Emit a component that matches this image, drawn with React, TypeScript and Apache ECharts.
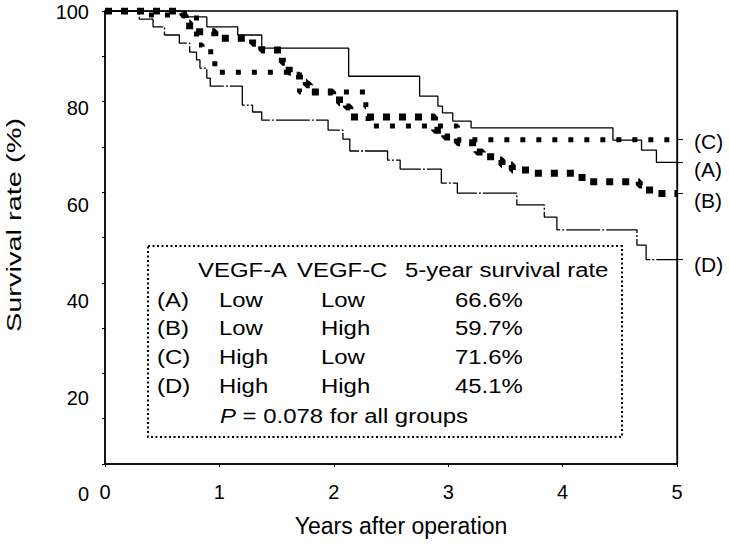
import React, { useEffect, useRef } from "react";
import * as echarts from "echarts";

// ---- data ----
const groupNames = ["(A)", "(B)", "(C)", "(D)"];
const vegfA = ["Low", "Low", "High", "High"];
const vegfC = ["Low", "High", "Low", "High"];
const fiveYearRate = [66.6, 59.7, 71.6, 45.1];

const aTimes = [0, 0.71, 0.89, 1.16, 1.37, 2.13, 2.75, 2.91, 2.95, 3.04, 3.2, 4.44, 4.69, 4.82, 5];
const aSurv = [100, 98.7, 96.5, 94.7, 91.8, 85.6, 81.2, 79.0, 77.5, 75.7, 74.2, 71.5, 69.3, 66.6, 66.6];

const bTimes = [0, 0.68, 0.7, 0.74, 0.96, 1.29, 1.37, 1.55, 1.61, 1.66, 1.7, 1.76, 1.79, 1.99, 2.05, 2.11, 2.14, 2.88, 2.97, 3.08, 3.25, 3.3, 3.45, 3.47, 3.56, 3.71, 4.17, 4.67, 4.76, 5];
const bSurv = [100, 99.1, 97.4, 95.4, 94.0, 92.9, 91.4, 88.7, 86.5, 85.8, 84.3, 83.7, 82.1, 81.2, 79.7, 78.8, 76.6, 73.7, 72.2, 70.9, 68.9, 67.8, 67.1, 66.0, 64.9, 64.2, 62.3, 61.6, 59.7, 59.7];

const cTimes = [0, 0.35, 0.8, 0.85, 0.96, 0.98, 1.7, 2.28, 2.3, 3.08, 5];
const cSurv = [100, 99.1, 92.5, 91.0, 87.6, 86.5, 82.1, 78.8, 74.6, 71.6, 71.6];

const dTimes = [0, 0.3, 0.42, 0.52, 0.65, 0.74, 0.8, 0.83, 0.89, 0.92, 1.2, 1.29, 1.37, 1.95, 2.08, 2.14, 2.47, 2.58, 2.94, 3.08, 3.6, 3.84, 3.95, 4.65, 4.73, 5];
const dSurv = [100, 98.2, 96.5, 94.7, 92.9, 90.9, 89.2, 87.4, 85.2, 83.4, 79.2, 77.7, 75.9, 73.7, 71.7, 69.1, 67.1, 65.1, 62.0, 59.8, 57.2, 54.5, 51.7, 48.3, 45.1, 45.1];

const xTicks = [0, 1, 2, 3, 4, 5];
const yLabelTicks = [0, 20, 40, 60, 80, 100];

const FONT = "'Liberation Sans', Arial, Helvetica, sans-serif";

const pairs = (t: number[], s: number[]) => t.map((v, i) => [v, s[i]]);

export default function App() {
  const ref = useRef<HTMLDivElement>(null);
  useEffect(() => {
    if (!ref.current) return;
    const chart = echarts.init(ref.current, undefined, { renderer: "svg" });

    const txt = (text: string, x: number, y: number, extra: any = {}) => ({
      type: "text",
      x,
      y,
      scaleX: 1.14,
      style: {
        text,
        fontSize: 21,
        fontFamily: FONT,
        fill: "#000",
        align: "left",
        verticalAlign: "middle",
        ...extra,
      },
    });

    const rowY = [300, 328, 357, 386];
    const tableTexts: any[] = [
      txt("VEGF-A", 198, 270),
      txt("VEGF-C", 297, 270),
      txt("5-year survival rate", 405, 270),
    ];
    groupNames.forEach((g, i) => {
      tableTexts.push(txt(g, 157, rowY[i]));
      tableTexts.push(txt(vegfA[i], 219, rowY[i]));
      tableTexts.push(txt(vegfC[i], 321, rowY[i]));
      tableTexts.push(txt(fiveYearRate[i].toFixed(1) + "%", 455, rowY[i]));
    });
    tableTexts.push({
      type: "text",
      x: 220,
      y: 416,
      scaleX: 1.14,
      style: {
        text: "{i|P} = 0.078 for all groups",
        fontSize: 21,
        fontFamily: FONT,
        fill: "#000",
        align: "left",
        verticalAlign: "middle",
        rich: { i: { fontStyle: "italic", fontSize: 21, fontFamily: FONT, fill: "#000" } },
      },
    });

    const endOffsets: Record<string, number> = { "(A)": 7, "(B)": 7, "(C)": 2, "(D)": 5 };
    const mkSeries = (name: string, data: number[][], lineStyle: any) => ({
      name,
      type: "line",
      step: "end",
      data,
      symbol: "none",
      xAxisIndex: 0,
      yAxisIndex: 0,
      lineStyle: { color: "#000", ...lineStyle },
      endLabel: {
        show: true,
        formatter: name,
        distance: 17,
        offset: [0, endOffsets[name]],
        fontSize: 21,
        fontFamily: FONT,
        color: "#000",
      },
      z: 3,
    });

    const option: any = {
      animation: false,
      backgroundColor: "#fff",
      grid: [
        { left: 105, right: 52, top: 11, bottom: 85, show: true, borderColor: "#000", borderWidth: 1.3, backgroundColor: "transparent" },
        { left: 105, right: 52, top: 12, bottom: 55, show: false },
      ],
      xAxis: [
        {
          type: "value",
          gridIndex: 0,
          min: 0,
          max: 5,
          interval: 1,
          axisLine: { show: true, lineStyle: { color: "#000", width: 1.5 } },
          axisTick: { show: true, length: 3, lineStyle: { color: "#000" } },
          splitLine: { show: false },
          axisLabel: {
            fontSize: 20,
            fontFamily: FONT,
            color: "#000",
            margin: 18,
            formatter: (v: number) => (xTicks.includes(v) ? String(v) : ""),
          },
          name: "Years after operation",
          nameLocation: "middle",
          nameGap: 50,
          nameTextStyle: { fontSize: 23, fontFamily: FONT, color: "#000", padding: [0, 0, 0, 20] },
        },
        { type: "value", gridIndex: 1, min: 0, max: 5, show: false },
      ],
      yAxis: [
        {
          type: "value",
          gridIndex: 0,
          min: 0,
          max: 100,
          interval: 10,
          axisLine: { show: true, lineStyle: { color: "#000", width: 1.5 } },
          axisTick: { show: true, length: 3, lineStyle: { color: "#000" } },
          axisLabel: { show: false },
          splitLine: { show: false },
        },
        {
          type: "value",
          gridIndex: 0,
          position: "right",
          min: 0,
          max: 100,
          axisLine: { show: true, lineStyle: { color: "#000", width: 1.3 } },
          axisTick: { show: true, length: 6, customValues: fiveYearRate, lineStyle: { color: "#000" } },
          axisLabel: { show: false },
          splitLine: { show: false },
        },
        {
          type: "value",
          gridIndex: 1,
          min: 0,
          max: 100,
          interval: 20,
          axisLine: { show: false },
          axisTick: { show: false },
          splitLine: { show: false },
          axisLabel: {
            fontSize: 20,
            fontFamily: FONT,
            color: "#000",
            margin: 16,
            formatter: (v: number) => (yLabelTicks.includes(v) ? String(v) : ""),
          },
        },
      ],
      series: [
        mkSeries("(A)", pairs(aTimes, aSurv), { width: 1.3, type: "solid" }),
        mkSeries("(B)", pairs(bTimes, bSurv), { width: 7, type: [7, 9], cap: "butt" }),
        mkSeries("(C)", pairs(cTimes, cSurv), { width: 5, type: [5, 11], cap: "butt" }),
        mkSeries("(D)", pairs(dTimes, dSurv), { width: 1.3, type: [34, 2, 2, 2] }),
      ],
      graphic: [
        {
          type: "text",
          x: 14,
          y: 225,
          rotation: Math.PI / 2,
          scaleX: 1.45,
          scaleY: 1.0,
          style: {
            text: "Survival rate (%)",
            fontSize: 20,
            fontFamily: FONT,
            fill: "#000",
            align: "center",
            verticalAlign: "middle",
          },
        },
        {
          type: "rect",
          shape: { x: 148, y: 246, width: 474, height: 191 },
          style: { fill: "#fff", stroke: "#000", lineWidth: 2, lineDash: [2, 2.5] },
          z: 10,
        },
        ...tableTexts.map((t) => ({ ...t, z: 11 })),
      ],
    };
    chart.setOption(option);
    return () => chart.dispose();
  }, []);
  return (
    <div
      ref={ref}
      style={{ position: "fixed", left: 0, top: 0, width: 729, height: 549, background: "#fff" }}
    />
  );
}
